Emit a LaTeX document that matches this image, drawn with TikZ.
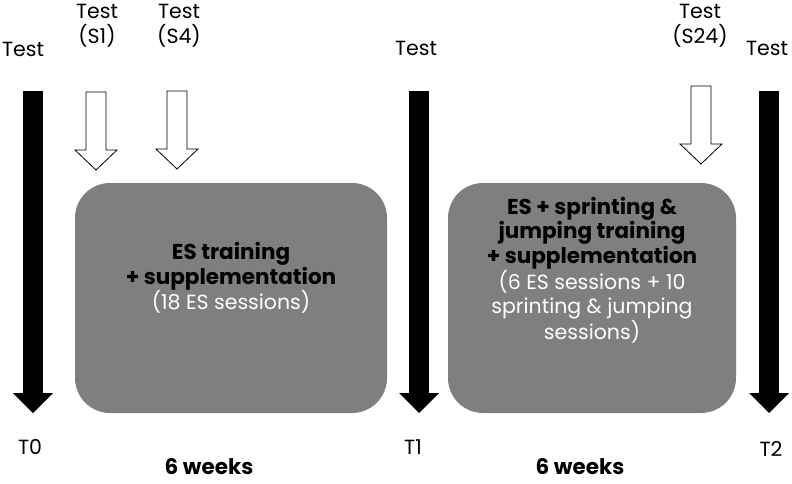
\documentclass[tikz,border=0pt]{standalone}
\usepackage{fontspec}
\setmainfont{Poppins}
\usetikzlibrary{arrows.meta,positioning}
\definecolor{boxgray}{HTML}{7F7F7F}
\newcommand{\heavy}[1]{{\fontsize{21.5}{24.5}\selectfont\bfseries #1}}
\tikzset{
  >={Triangle[width=40pt,length=20pt,line width=0pt]},
  timeline/.style={line width=20pt, ->, black},
  testarrow/.style={draw=black, line width=0.8pt, fill=white, line join=miter},
  phase/.style={rectangle, rounded corners=35pt, fill=boxgray,
    minimum height=230pt, inner sep=0pt},
  txt/.style={font=\fontsize{20.5}{24.5}\selectfont, align=center, inner sep=0pt},
  boxtext/.style={txt},
  weeks/.style={txt, font=\fontsize{21.5}{24.5}\selectfont\bfseries},
}
% hollow test arrow: x, top, start of head, tip
\newcommand{\hollowarrow}[4]{
  \draw[testarrow] (#1-10,#2) -- (#1+10,#2) -- (#1+10,#3) -- (#1+21,#3)
    -- (#1,#4) -- (#1-21,#3) -- (#1-10,#3) -- cycle;
}

\begin{document}
\begin{tikzpicture}[x=1pt, y=-1pt]
    \useasboundingbox (0,0) rectangle (792,484);

    %phases
    \node[phase, minimum width=312pt] (es) at (231,298) {};
    \node[phase, minimum width=288pt] (sj) at (592,298) {};
    \node[boxtext] (estext) at (231,278)
        {\heavy{ES training}\\ \heavy{+ supplementation}\\
         \textcolor{white}{(18 ES sessions)}};
    \node[boxtext] (sjtext) at (592,270)
        {\heavy{ES + sprinting \&}\\ \heavy{jumping training}\\
         \heavy{+ supplementation}\\
         \textcolor{white}{(6 ES sessions + 10}\\
         \textcolor{white}{sprinting \& jumping}\\
         \textcolor{white}{sessions)}};

    %time points
    \coordinate (t0top) at (33,91);  \coordinate (t0tip) at (33,413);
    \coordinate (t1top) at (419,91); \coordinate (t1tip) at (419,413);
    \coordinate (t2top) at (769,91); \coordinate (t2tip) at (769,413);
    \draw[timeline] (t0top) -- (t0tip);
    \draw[timeline] (t1top) -- (t1tip);
    \draw[timeline] (t2top) -- (t2tip);

    \node[txt] (test0) at (23,49) {Test};
    \node[txt] (test1) at (416,48) {Test};
    \node[txt] (test2) at (767,48) {Test};
    \node[txt] (T0) at (30,447) {T0};
    \node[txt] (T1) at (413,447) {T1};
    \node[txt] (T2) at (771,449) {T2};

    %tests during the phases
    \hollowarrow{96}{92}{150}{170}
    \hollowarrow{177}{91}{149}{169}
    \hollowarrow{701}{86}{144}{164}
    \node[txt] (testS1) at (97,26) {Test\\(S1)};
    \node[txt] (testS4) at (179,26) {Test\\(S4)};
    \node[txt] (testS24) at (700,26) {Test\\(S24)};

    %durations
    \node[weeks] (weeks1) at (209,467) {6 weeks};
    \node[weeks] (weeks2) at (580,467) {6 weeks};

\end{tikzpicture}
\end{document}
